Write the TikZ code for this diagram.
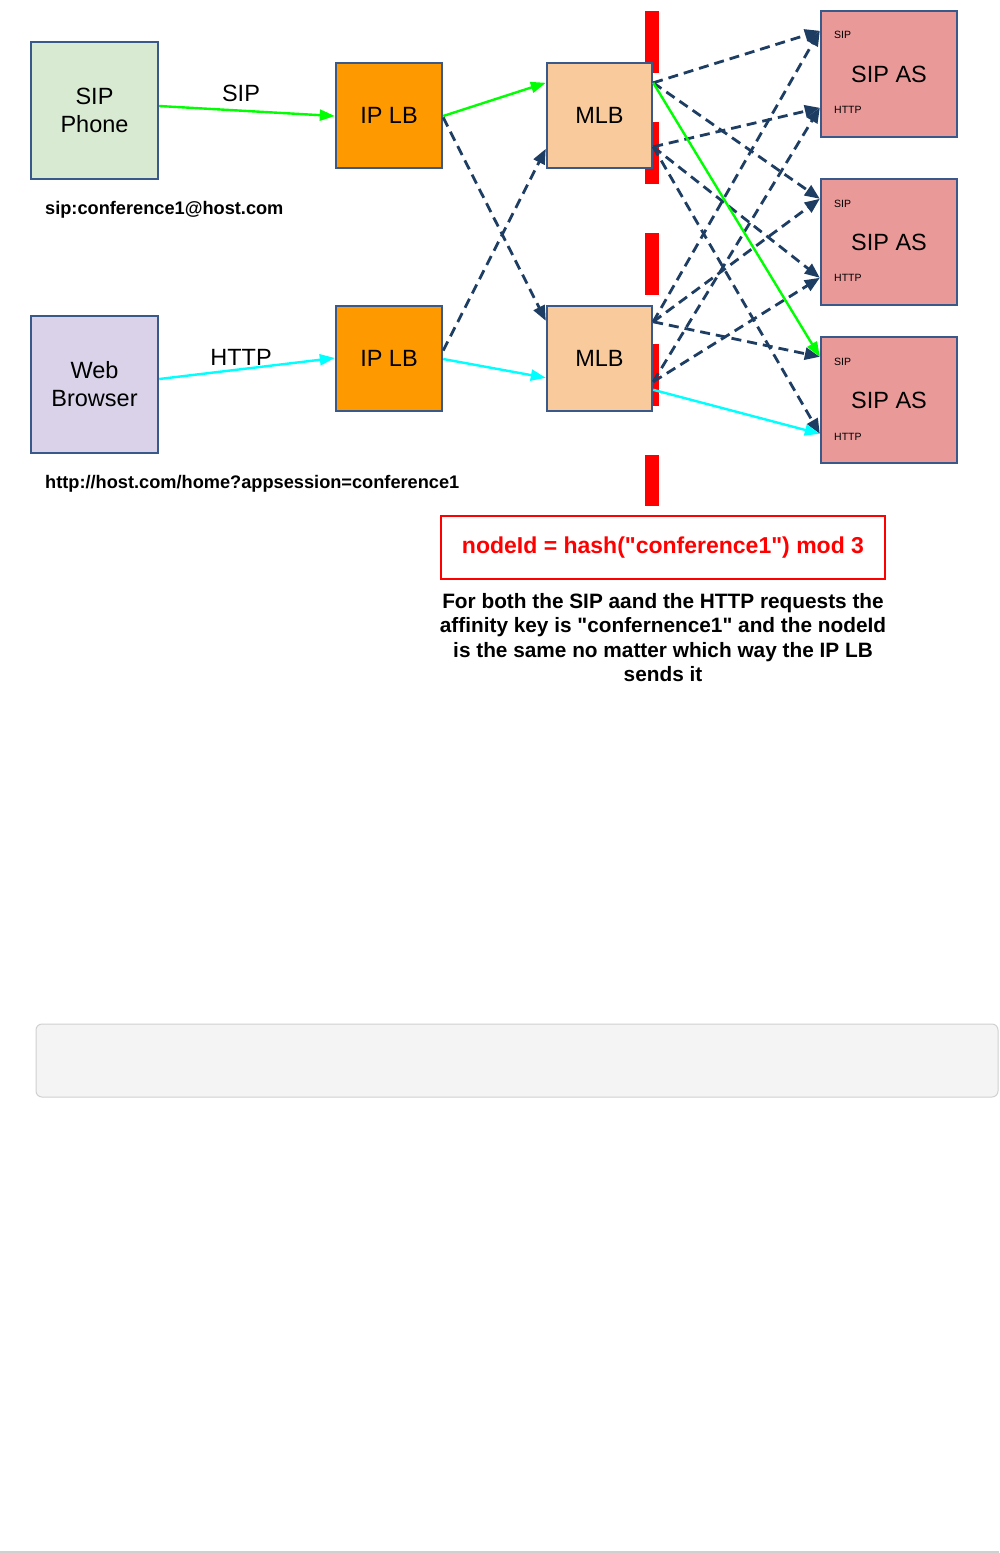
\documentclass[tikz,border=0pt]{standalone}
\usepackage{fontspec}
\setmainfont{Liberation Sans}
\usetikzlibrary{arrows.meta}
\definecolor{bord}{HTML}{38598A}
\definecolor{dblue}{HTML}{1D3D63}
\definecolor{phonefill}{HTML}{D9EAD3}
\definecolor{webfill}{HTML}{D9D2E9}
\definecolor{lbfill}{HTML}{FF9900}
\definecolor{mlbfill}{HTML}{F9CB9C}
\definecolor{asfill}{HTML}{EA9999}
\definecolor{greenline}{HTML}{00FF00}
\definecolor{cyanline}{HTML}{00FFFF}
\definecolor{panelfill}{HTML}{F4F4F4}
\definecolor{panelborder}{HTML}{D0D0D0}
\begin{document}
\begin{tikzpicture}[x=1pt,y=-1pt,
  box/.style={draw=bord, line width=2.4pt, inner sep=0pt, align=center,
              font=\fontsize{23.5}{28}\selectfont},
  client/.style={box, minimum width=127pt, minimum height=137pt},
  lb/.style={box, fill=lbfill, minimum width=106pt, minimum height=105pt},
  mlbbox/.style={box, fill=mlbfill, minimum width=105pt, minimum height=105pt},
  asbox/.style={box, fill=asfill, minimum width=136pt, minimum height=126pt},
  port/.style={inner sep=0pt, anchor=west, font=\fontsize{10.5}{12}\selectfont},
  lbl/.style={inner sep=0pt, font=\fontsize{23.5}{26}\selectfont},
  url/.style={inner sep=0pt, anchor=west, font=\bfseries\fontsize{18.2}{20}\selectfont},
  greenarrow/.style={draw=greenline, line width=2.4pt, -{Triangle[length=15pt,width=11pt]}},
  cyanarrow/.style={draw=cyanline, line width=2.4pt, -{Triangle[length=15pt,width=11pt]}},
  dasharrow/.style={draw=dblue, line width=2.8pt, dash pattern=on 10pt off 6pt,
                    -{Triangle[length=15pt,width=12pt]}},
]
\useasboundingbox (0,0) rectangle (999,1553);
\fill[white] (0,0) rectangle (999,1553);

% red dashed separator
\coordinate (redtop) at (652,11);
\coordinate (redbot) at (652,506);
\draw[red, line width=14pt, dash pattern=on 62pt off 49pt] (redtop) -- (redbot);

% nodes
\node[client, fill=phonefill] (phone) at (94.5,110.5) {SIP\\Phone};
\node[client, fill=webfill] (web) at (94.5,384.5) {Web\\Browser};
\node[lb] (lb1) at (389,115.5) {IP LB};
\node[lb] (lb2) at (389,358.5) {IP LB};
\node[mlbbox] (mlb1) at (599.5,115.5) {MLB};
\node[mlbbox] (mlb2) at (599.5,358.5) {MLB};
\node[asbox] (as1) at (889,74) {SIP AS};
\node[asbox] (as2) at (889,242) {SIP AS};
\node[asbox] (as3) at (889,400) {SIP AS};

\node[port] (as1s) at (834,35) {SIP};
\node[port] (as1h) at (834,110) {HTTP};
\node[port] (as2s) at (834,204) {SIP};
\node[port] (as2h) at (834,278) {HTTP};
\node[port] (as3s) at (834,362) {SIP};
\node[port] (as3h) at (834,437) {HTTP};

% labels
\node[lbl] (siplbl) at (241,93) {SIP};
\node[lbl] (httplbl) at (241,357) {HTTP};
\node[url] (sipurl) at (45,210) {sip:conference1@host.com};
\node[url] (httpurl) at (45,484) {http://host.com/home?appsession=conference1};

\node[draw=red, line width=2pt, minimum width=444pt, minimum height=63pt, inner sep=0pt,
      text=red, font=\bfseries\fontsize{23}{26}\selectfont] (hash) at (663,547.5)
      {nodeId = hash(\textquotedbl conference1\textquotedbl) mod 3};
\node[inner sep=0pt, align=center, font=\bfseries\fontsize{20.8}{24.3}\selectfont] (note) at (663,637.5)
      {For both the SIP aand the HTTP requests the\\
       affinity key is \textquotedbl confernence1\textquotedbl{} and the nodeId\\
       is the same no matter which way the IP LB\\
       sends it};

% client to IP LB
\draw[greenarrow] ([yshift=4.5pt]phone.east) -- ([yshift=-0.5pt]lb1.west);
\draw[cyanarrow] ([yshift=5.5pt]web.east) -- ([yshift=0.5pt]lb2.west);

% IP LB to MLB
\draw[greenarrow] ([yshift=-0.5pt]lb1.east) -- ([yshift=-21pt]mlb1.north west);
\draw[cyanarrow] ([yshift=-0.5pt]lb2.east) -- ([yshift=-73pt]mlb2.north west);
\draw[dasharrow] ([yshift=-2pt]lb1.east) -- ([yshift=-16pt]mlb2.north west);
\draw[dasharrow] ([yshift=8pt]lb2.east) -- ([yshift=-87pt]mlb1.north west);

% MLB top to SIP AS
\draw[dasharrow] ([yshift=-21pt]mlb1.north east) -- ([yshift=-21pt]as1.north west);
\draw[dasharrow] ([yshift=-21pt]mlb1.north east) -- ([yshift=-21pt]as2.north west);
\draw[dasharrow] ([yshift=-85pt]mlb1.north east) -- ([yshift=-98pt]as1.north west);
\draw[dasharrow] ([yshift=-85pt]mlb1.north east) -- ([yshift=-100pt]as2.north west);
\draw[dasharrow] ([yshift=-85pt]mlb1.north east) -- ([yshift=-98pt]as3.north west);

% MLB bottom to SIP AS
\draw[dasharrow] ([yshift=-17pt]mlb2.north east) -- ([yshift=-21pt]as1.north west);
\draw[dasharrow] ([yshift=-17pt]mlb2.north east) -- ([yshift=-21pt]as2.north west);
\draw[dasharrow] ([yshift=-17pt]mlb2.north east) -- ([yshift=-21pt]as3.north west);
\draw[dasharrow] ([yshift=-77pt]mlb2.north east) -- ([yshift=-98pt]as1.north west);
\draw[dasharrow] ([yshift=-77pt]mlb2.north east) -- ([yshift=-100pt]as2.north west);

% solid request paths
\draw[greenarrow] ([yshift=-21pt]mlb1.north east) -- ([yshift=-21pt]as3.north west);
\draw[cyanarrow] ([yshift=-85pt]mlb2.north east) -- ([yshift=-98pt]as3.north west);

% lower panel and bottom rule
\draw[draw=panelborder, fill=panelfill, line width=1pt, rounded corners=6pt]
  (36,1024) rectangle (998,1097);
\fill[panelborder] (0,1550.5) rectangle (999,1553);
\end{tikzpicture}
\end{document}
